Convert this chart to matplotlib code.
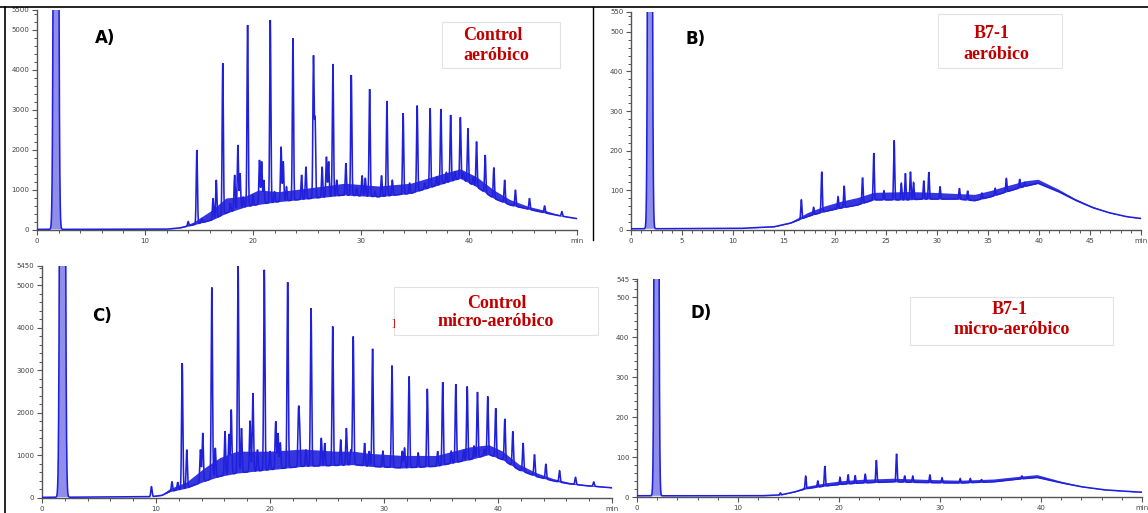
import numpy as np
import matplotlib
matplotlib.use("Agg")
import matplotlib.pyplot as plt
from matplotlib.ticker import MultipleLocator

# ---------------- data ----------------
# Panel A: Control aeróbico
A_peak_t = [1.76, 14.8, 16.6, 17.2, 18.6, 19.5, 20.6, 21.6, 22.6, 23.7, 25.6, 26.8, 27.4, 29.1, 30.8,
            32.4, 33.9, 35.2, 36.4, 37.4, 38.3, 39.2, 39.9, 40.7, 41.5, 42.3, 43.3, 44.3, 45.6, 47.0, 48.6]
A_peak_h = [60000, 2000, 1250, 4170, 2125, 5125, 1750, 5250, 2080, 4790, 4320, 1830, 4150, 3875, 3520,
            3225, 2920, 3110, 3040, 3025, 2875, 2815, 2540, 2210, 1875, 1560, 1250, 1000, 790, 600, 460]
A_minor_t = [14.0, 15.25, 16.3, 17.9, 18.3, 18.8, 19.1, 20.0, 20.8, 21.0, 22.0, 22.8, 23.1, 24.5, 24.9,
             25.75, 26.4, 27.0, 27.75, 28.6, 29.6, 30.1, 30.4, 31.3, 31.9, 32.9, 34.5, 35.9, 37.0, 37.9,
             38.7, 39.5, 40.4]
A_minor_h = [210, 290, 790, 670, 1375, 1420, 830, 875, 1710, 1250, 955, 1710, 1080, 1375, 1580,
             2750, 1580, 1710, 1250, 1670, 1040, 1360, 1300, 960, 1360, 1250, 1170, 1170, 1330, 1440,
             1460, 1420, 1330]
A_base_t = [0, 12.0, 13.2, 14.5, 16.2, 17.5, 19.3, 20.5, 22.4, 25.4, 28.5, 31.6, 34.6, 37.7, 39.2,
            40.7, 42.3, 43.8, 45.5, 46.9, 48.5, 50]
A_base_lo = [15, 20, 50, 130, 250, 420, 580, 640, 710, 790, 875, 830, 915, 1170, 1290,
             1080, 790, 625, 520, 435, 350, 285]
A_base_hi = [15, 20, 60, 200, 500, 800, 850, 1000, 960, 1060, 1170, 1100, 1170, 1420, 1530,
             1330, 1000, 760, 590, 500, 370, 300]

# Panel B: B7-1 aeróbico
B_peak_t = [1.86, 16.7, 17.9, 18.7, 20.3, 20.9, 22.7, 23.8, 24.8, 25.8, 26.5, 26.9, 27.4, 27.7, 28.7,
            29.2, 30.3, 32.2, 33.0, 34.4, 35.7, 36.8, 38.1, 38.6]
B_peak_h = [6000, 76, 57, 147, 84, 111, 132, 194, 99, 226, 118, 143, 147, 120, 124,
            146, 109, 105, 99, 93, 105, 130, 128, 120]
B_base_t = [0, 10.7, 14.0, 15.6, 17.3, 18.9, 20.5, 22.2, 23.8, 25.5, 27.1, 28.7, 30.4, 32.0, 33.7,
            35.3, 36.9, 38.6, 39.9, 41.9, 43.5, 45.2, 46.8, 48.5, 50]
B_base_lo = [3, 4, 8, 17, 34, 46, 55, 63, 76, 76, 76, 78, 78, 78, 74,
             84, 97, 110, 118, 97, 76, 57, 44, 34, 29]
B_base_hi = [3, 4, 9, 20, 44, 60, 72, 82, 95, 96, 97, 96, 94, 92, 90,
             100, 112, 124, 128, 103, 80, 60, 46, 35, 30]

# Panel C: Control micro-aeróbico
C_peak_t = [1.80, 9.6, 12.3, 14.1, 14.9, 16.6, 17.2, 18.5, 19.5, 20.5, 21.55, 22.5, 23.6, 25.5, 26.7,
            27.3, 29.0, 30.7, 32.2, 33.8, 35.15, 36.3, 37.3, 38.2, 39.1, 39.8, 40.6, 41.3, 42.2, 43.2,
            44.2, 45.4, 46.8, 48.4]
C_peak_h = [60000, 265, 3170, 1525, 4945, 2075, 5480, 2465, 5360, 1800, 5070, 1970, 4460, 4030, 1640,
            3795, 3505, 3110, 2855, 2565, 2720, 2675, 2620, 2490, 2385, 2110, 1860, 1565, 1290, 1020,
            800, 640, 485, 375]
C_minor_t = [11.4, 11.9, 12.7, 13.9, 15.2, 16.05, 16.4, 17.5, 18.25, 18.9, 20.0, 20.7, 20.9, 22.6, 23.15,
             24.5, 24.8, 26.2, 27.1, 28.3, 28.7, 29.9, 31.6, 31.8, 33.0, 34.7, 35.9, 37.0, 37.9, 38.8]
C_minor_h = [380, 370, 1135, 1135, 1175, 1565, 1500, 1640, 1815, 1135, 1100, 1525, 1300, 1525, 1135,
             1410, 1290, 1370, 1135, 1290, 1100, 1100, 1100, 1175, 1060, 1100, 1100, 1120, 1220, 1135]
C_base_t = [0, 9.5, 10.5, 11.2, 12.7, 14.2, 15.6, 17.1, 18.5, 20.0, 22.9, 25.8, 27.3, 28.7, 31.6,
            34.6, 37.5, 39.2, 40.4, 41.8, 43.3, 44.8, 46.2, 47.7, 50]
C_base_lo = [15, 30, 60, 150, 235, 390, 510, 585, 625, 665, 745, 765, 785, 745, 705,
             745, 900, 1020, 900, 665, 510, 405, 335, 290, 240]
C_base_hi = [15, 30, 80, 220, 380, 700, 950, 1100, 1100, 1100, 1150, 1100, 1100, 1050, 1000,
             1000, 1200, 1250, 1100, 800, 600, 460, 370, 310, 250]

# Panel D: B7-1 micro-aeróbico
D_peak_t = [1.93, 14.2, 16.7, 17.9, 18.6, 20.1, 20.9, 21.6, 22.6, 23.7, 25.7, 26.5, 27.3, 29.0, 30.2,
            32.0, 33.0, 34.1, 38.1]
D_peak_h = [6000, 10, 52, 40, 77, 49, 56, 54, 57, 92, 108, 53, 52, 55, 48,
            46, 46, 44, 53]
D_base_t = [0, 12.2, 14.2, 15.5, 16.8, 18.8, 20.4, 22.1, 25.4, 28.7, 32.0, 35.3, 37.9, 39.6, 41.9,
            43.9, 46.2, 48.5, 50]
D_base_lo = [3, 3, 5, 12, 21, 28, 32, 35, 38, 36, 35, 38, 45, 49, 36,
             26, 18, 14, 12]
D_base_hi = [3, 3, 6, 14, 27, 36, 41, 44, 47, 44, 42, 45, 52, 56, 40,
             28, 19, 15, 12]

A_yticks = [0, 1000, 2000, 3000, 4000, 5000]
B_yticks = [0, 100, 200, 300, 400, 500]
AC_xticks = [0, 10, 20, 30, 40, 50]
AC_xlabels = ["0", "10", "20", "30", "40", "min"]
B_xticks = [0, 5, 10, 15, 20, 25, 30, 35, 40, 45, 50]
B_xlabels = ["0", "5", "10", "15", "20", "25", "30", "35", "40", "45", "min"]

# ---------------- drawing ----------------
W, H = 1148, 513
fig = plt.figure(figsize=(W / 100, H / 100), dpi=100)
fig.patch.set_facecolor("white")
BLUE = "#2020dc"
LIGHTBLUE = "#8f8fea"
RED = "#c00000"


def ax_at(l, r, top, bottom):
    return fig.add_axes([l / W, 1 - bottom / H, (r - l) / W, (bottom - top) / H])


def chrom(ax, pt, ph, bt, blo, bhi, mt=(), mh=(), sig=0.055, solv_sig=0.13):
    t = np.linspace(0, 50, 12001)
    lo = np.interp(t, bt, blo)
    hi = np.interp(t, bt, bhi)
    y = lo.copy()
    solvent = np.zeros_like(t)
    for i, (p, h) in enumerate(zip(list(pt) + list(mt), list(ph) + list(mh))):
        s = solv_sig if i == 0 else sig
        amp = h - np.interp(p, bt, blo)
        g = amp * np.exp(-0.5 * ((t - p) / s) ** 2)
        if i == 0:
            solvent = g
        y += g
    # solvent peak body (appears as a light filled bar)
    ax.fill_between(t, lo, lo + solvent, where=solvent > 1e-3 * solvent.max(),
                    color=LIGHTBLUE, lw=0, zorder=1)
    ax.fill_between(t, lo, hi, color=BLUE, lw=0, alpha=0.9, zorder=2)
    ax.plot(t, y, color=BLUE, lw=1.15, zorder=3, solid_joinstyle="miter")


def style(ax, ylim, ymaj, ymin, xticks, xlabels, xminor, yticks):
    ax.set_xlim(0, 50)
    ax.set_ylim(0, ylim)
    for s in ("top", "right"):
        ax.spines[s].set_visible(False)
    for s in ("left", "bottom"):
        ax.spines[s].set_color("#555555")
        ax.spines[s].set_linewidth(1.0)
    ax.set_xticks(xticks)
    ax.set_xticklabels(xlabels)
    ax.xaxis.set_minor_locator(MultipleLocator(xminor))
    ax.set_yticks(yticks + [ylim])
    ax.set_yticklabels([str(v) for v in yticks] + [str(ylim)])
    ax.yaxis.set_minor_locator(MultipleLocator(ymin))
    ax.tick_params(which="major", length=3.5, width=0.8, color="#555555",
                   labelsize=5, labelcolor="#444444", pad=2)
    ax.tick_params(which="minor", length=2, width=0.7, color="#555555")
    ax.set_facecolor("none")


axA = ax_at(37, 577, 10, 230)
chrom(axA, A_peak_t, A_peak_h, A_base_t, A_base_lo, A_base_hi, A_minor_t, A_minor_h)
style(axA, 5500, 1000, 200, AC_xticks, AC_xlabels, 2, A_yticks)

axB = ax_at(631, 1141, 12, 230)
chrom(axB, B_peak_t, B_peak_h, B_base_t, B_base_lo, B_base_hi, solv_sig=0.12)
style(axB, 550, 100, 20, B_xticks, B_xlabels, 1, B_yticks)

axC = ax_at(42, 612, 266, 498)
chrom(axC, C_peak_t, C_peak_h, C_base_t, C_base_lo, C_base_hi, C_minor_t, C_minor_h)
style(axC, 5450, 1000, 200, AC_xticks, AC_xlabels, 2, A_yticks)

axD = ax_at(637, 1142, 279, 497)
chrom(axD, D_peak_t, D_peak_h, D_base_t, D_base_lo, D_base_hi, solv_sig=0.12)
style(axD, 545, 100, 20, AC_xticks, AC_xlabels, 2, B_yticks)


def ftext(x, y, s, **kw):
    fig.text(x / W, 1 - y / H, s, **kw)


def fbox(l, r, top, bottom):
    fig.patches.append(plt.Rectangle((l / W, 1 - bottom / H), (r - l) / W, (bottom - top) / H,
                                     transform=fig.transFigure, facecolor="white",
                                     edgecolor="#e2e2e2", lw=0.8, zorder=5))


# label boxes
lab = dict(family="Liberation Serif", weight="bold", color=RED, fontsize=13,
           ha="center", va="center", zorder=6)
fbox(442, 560, 22, 68)
ftext(493, 36, "Control", **lab)
ftext(496, 56, "aeróbico", **lab)

fbox(938, 1062, 14, 68)
ftext(992, 34, "B7-1", **lab)
ftext(996, 55, "aeróbico", **lab)

fbox(394, 598, 287, 335)
ftext(497, 303, "Control", **lab)
ftext(496, 322, "micro-aeróbico", **lab)
ftext(393, 323, "]", family="Liberation Serif", color=RED, fontsize=8, ha="center", va="center", zorder=6)

fbox(910, 1113, 297, 345)
ftext(1010, 310, "B7-1", **lab)
ftext(1012, 330, "micro-aeróbico", **lab)

# panel letters
pl = dict(family="DejaVu Sans", weight="bold", color="black", fontsize=12, ha="center", va="center")
ftext(105, 38, "A)", **pl)
ftext(696, 39, "B)", **pl)
ftext(102, 316, "C)", **pl)
ftext(701, 313, "D)", **pl)

# frame lines
fig.add_artist(plt.Line2D([0, 1], [1 - 7 / H, 1 - 7 / H], color="black", lw=1.2))
fig.add_artist(plt.Line2D([5 / W, 5 / W], [0, 1 - 7 / H], color="black", lw=1.2))
fig.add_artist(plt.Line2D([593 / W, 593 / W], [1 - 240 / H, 1 - 7 / H], color="black", lw=1.0))

fig.savefig("out.png", dpi=100)
